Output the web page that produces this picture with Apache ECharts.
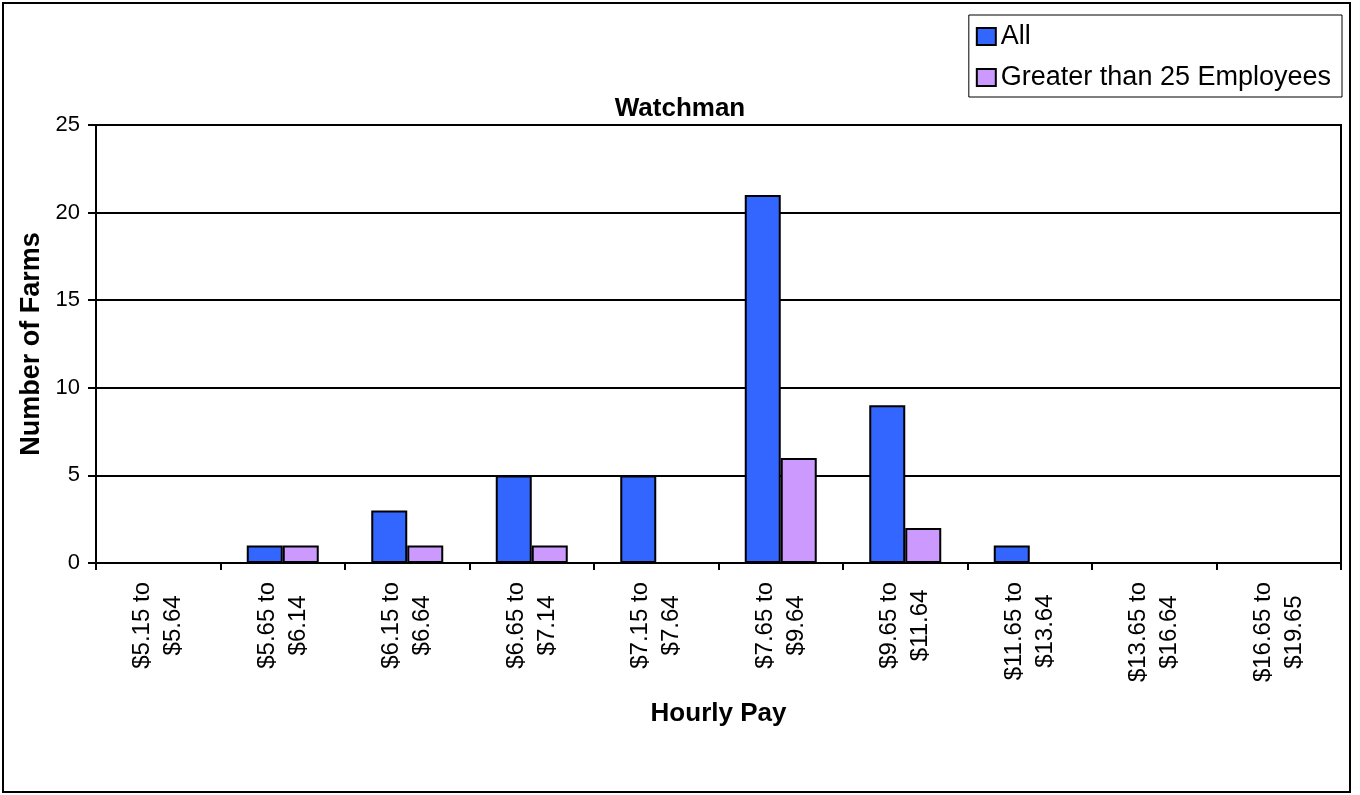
<!DOCTYPE html>
<html>
<head>
<meta charset="utf-8">
<title>Watchman</title>
<script src="https://cdn.jsdelivr.net/npm/echarts@6/dist/echarts.min.js"></script>
<style>
  html, body { margin: 0; padding: 0; background: #fff; }
  #chart { width: 1360px; height: 795px; }
</style>
</head>
<body>
<div id="chart"></div>
<script>
// pay ranges (x categories), two lines each
const payRanges = [
  '$5.15 to\n$5.64', '$5.65 to\n$6.14', '$6.15 to\n$6.64', '$6.65 to\n$7.14',
  '$7.15 to\n$7.64', '$7.65 to\n$9.64', '$9.65 to\n$11.64', '$11.65 to\n$13.64',
  '$13.65 to\n$16.64', '$16.65 to\n$19.65'
];
const allFarms = [0, 1, 3, 5, 5, 21, 9, 1, 0, 0];
const largeFarms = [0, 1, 1, 1, 0, 6, 2, 0, 0, 0];
const seriesNames = ['All', 'Greater than 25 Employees'];

const font = 'Liberation Sans, Arial, sans-serif';

const chart = echarts.init(document.getElementById('chart'));

const option = {
  animation: false,
  backgroundColor: '#fff',
  textStyle: { fontFamily: font, color: '#000' },
  title: {
    text: 'Watchman',
    left: 'center',
    top: 91,
    textStyle: { fontFamily: font, fontSize: 26, fontWeight: 'bold', color: '#000' }
  },
  legend: {
    orient: 'vertical',
    right: 18,
    top: 15,
    padding: [8, 11, 6, 7],
    itemGap: 14,
    itemWidth: 19,
    itemHeight: 17,
    icon: 'rect',
    borderColor: '#000',
    borderWidth: 1,
    data: seriesNames,
    textStyle: { fontFamily: font, fontSize: 27, color: '#000' }
  },
  grid: {
    left: 96,
    right: 19,
    top: 125,
    bottom: 232,
    show: true,
    borderColor: '#000',
    borderWidth: 2,
    backgroundColor: '#fff'
  },
  xAxis: {
    type: 'category',
    data: payRanges,
    name: 'Hourly Pay',
    nameLocation: 'middle',
    nameGap: 138,
    nameTextStyle: { fontFamily: font, fontSize: 26, fontWeight: 'bold', color: '#000' },
    axisLine: { lineStyle: { color: '#000', width: 2 } },
    axisTick: { show: true, length: 7, lineStyle: { color: '#000', width: 2 } },
    axisLabel: {
      rotate: 90,
      interval: 0,
      margin: 19,
      formatter: function (v) {
        return v.split('\n').map(function (s) { return '{a|' + s + '}'; }).join('\n');
      },
      rich: {
        a: { align: 'center', fontFamily: font, fontSize: 24, lineHeight: 31, color: '#000' }
      }
    }
  },
  yAxis: {
    type: 'value',
    min: 0,
    max: 25,
    interval: 5,
    name: 'Number of Farms',
    nameLocation: 'middle',
    nameRotate: 90,
    nameGap: 46,
    nameTextStyle: { fontFamily: font, fontSize: 27, fontWeight: 'bold', color: '#000' },
    axisLine: { show: true, lineStyle: { color: '#000', width: 2 } },
    axisTick: { show: true, length: 8, lineStyle: { color: '#000', width: 2 } },
    axisLabel: { margin: 16, fontFamily: font, fontSize: 22, color: '#000' },
    splitLine: { show: true, lineStyle: { color: '#000', width: 2 } }
  },
  graphic: [
    {
      type: 'rect',
      shape: { x: 3, y: 3, width: 1347, height: 789 },
      style: { fill: 'none', stroke: '#000', lineWidth: 2 },
      silent: true,
      z: 100
    }
  ],
  series: [
    {
      name: seriesNames[0],
      type: 'bar',
      data: allFarms,
      barWidth: 36,
      barGap: '0%',
      itemStyle: { color: '#3366FF', borderColor: '#000', borderWidth: 2 }
    },
    {
      name: seriesNames[1],
      type: 'bar',
      data: largeFarms,
      barWidth: 36,
      barGap: '0%',
      itemStyle: { color: '#CC99FF', borderColor: '#000', borderWidth: 2 }
    }
  ]
};

chart.setOption(option);
window.addEventListener('resize', function () { chart.resize(); });
</script>
</body>
</html>
